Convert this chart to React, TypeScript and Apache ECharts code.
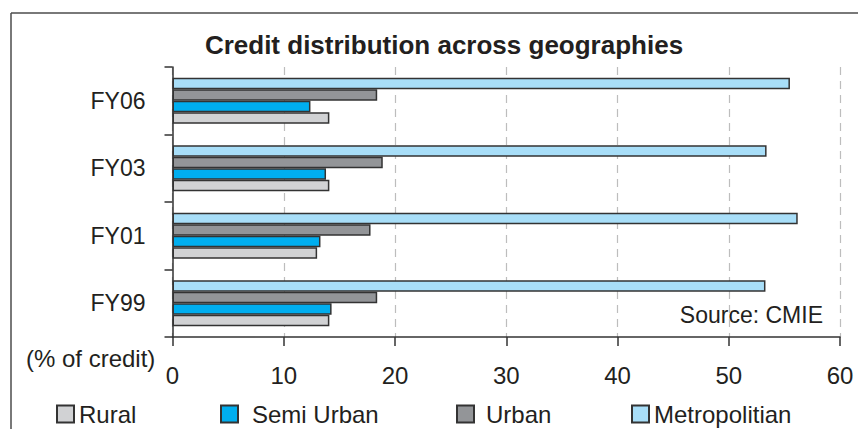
import React, { useEffect, useRef } from "react";
import * as echarts from "echarts";

// Share of credit (%) by population group, per fiscal year
const years = ["FY99", "FY01", "FY03", "FY06"];
const rural = [14.1, 13.0, 14.1, 14.1];
const semiUrban = [14.3, 13.3, 13.8, 12.4];
const urban = [18.4, 17.8, 18.9, 18.4];
const metropolitan = [53.3, 56.2, 53.4, 55.5];
const xTicks = [0, 10, 20, 30, 40, 50, 60];

const FONT = "'Liberation Sans', Arial, Helvetica, sans-serif";
const INK = "#231f20";
const EDGE = "#333333";

export default function App() {
  const ref = useRef<HTMLDivElement>(null);

  useEffect(() => {
    if (!ref.current) return;
    const chart = echarts.init(ref.current, undefined, { renderer: "svg" });

    const barSeries = (name: string, data: number[], color: string) => ({
      name,
      type: "bar",
      data,
      barWidth: 11.5,
      barGap: "0%",
      itemStyle: { color, borderColor: EDGE, borderWidth: 1.5 },
    });

    const legendAt = (name: string, left: number, textPad: number) => ({
      data: [name],
      left,
      top: 402,
      padding: 0,
      icon: "rect",
      itemWidth: 17,
      itemHeight: 17,
      selectedMode: false,
      textStyle: {
        fontFamily: FONT,
        fontSize: 24,
        color: INK,
        padding: [0, 0, 0, textPad],
      },
    });

    chart.setOption({
      animation: false,
      backgroundColor: "#ffffff",
      title: {
        text: "Credit distribution across geographies",
        left: 439,
        textAlign: "center",
        top: 27,
        textStyle: { fontFamily: FONT, fontSize: 26, fontWeight: "bold", color: INK },
      },
      grid: { left: 172.5, right: 18, top: 67, bottom: 92, containLabel: false },
      xAxis: {
        type: "value",
        min: xTicks[0],
        max: xTicks[xTicks.length - 1],
        interval: 10,
        axisLine: { show: true, lineStyle: { color: EDGE, width: 1.5 } },
        axisTick: { show: true, inside: false, length: 9, lineStyle: { color: EDGE, width: 1.5 } },
        axisLabel: { fontFamily: FONT, fontSize: 24, color: INK, margin: 26 },
        splitLine: {
          show: true,
          lineStyle: { color: "#bdbdbd", width: 1.2, type: [8, 6] },
        },
      },
      yAxis: {
        type: "category",
        data: years,
        axisLine: { show: true, lineStyle: { color: EDGE, width: 1.5 } },
        axisTick: { show: true, inside: false, length: 8, lineStyle: { color: EDGE, width: 1.5 } },
        axisLabel: { fontFamily: FONT, fontSize: 23, color: INK, margin: 27 },
        splitLine: { show: false },
      },
      legend: [
        legendAt("Rural", 56, 0),
        legendAt("Semi Urban", 220, 9),
        legendAt("Urban", 456, 7),
        legendAt("Metropolitian", 631, 0),
      ],
      // within each year the first series sits on top, so Metropolitian leads
      series: [
        barSeries("Metropolitian", metropolitan, "#a8def8"),
        barSeries("Urban", urban, "#939598"),
        barSeries("Semi Urban", semiUrban, "#00aeef"),
        barSeries("Rural", rural, "#d1d2d4"),
      ],
      graphic: [
        {
          type: "line",
          shape: { x1: 11, y1: 13, x2: 858, y2: 13 },
          style: { stroke: "#4d4d4d", lineWidth: 1.5 },
        },
        {
          type: "line",
          shape: { x1: 11, y1: 13, x2: 11, y2: 429 },
          style: { stroke: "#4d4d4d", lineWidth: 1.5 },
        },
        {
          type: "text",
          left: 26,
          top: 346,
          style: { text: "(% of credit)", fontFamily: FONT, fontSize: 24, fill: INK },
        },
        {
          type: "text",
          right: 35,
          top: 303,
          style: { text: "Source: CMIE", fontFamily: FONT, fontSize: 23, fill: INK },
        },
      ],
    });

    return () => chart.dispose();
  }, []);

  return (
    <div
      ref={ref}
      style={{ position: "fixed", left: 0, top: 0, width: 858, height: 429 }}
    />
  );
}
